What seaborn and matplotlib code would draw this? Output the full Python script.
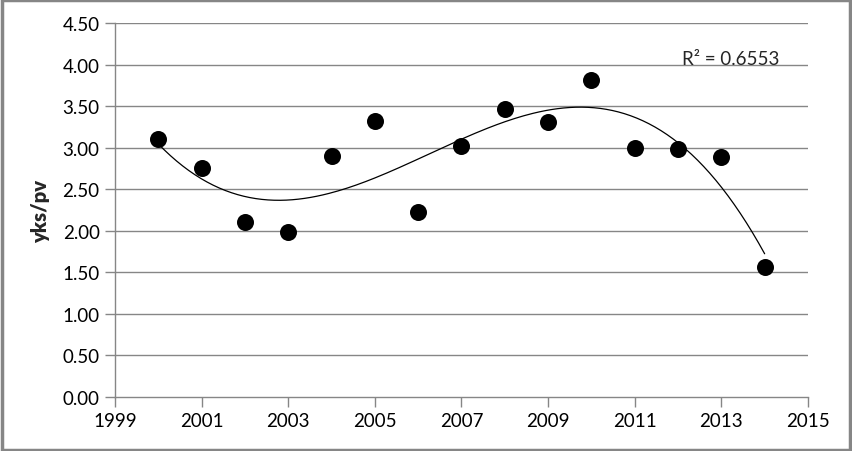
import numpy as np
import pandas as pd
import matplotlib
matplotlib.use("Agg")
import matplotlib.pyplot as plt
import seaborn as sns
from matplotlib.patches import Rectangle

years = [2000, 2001, 2002, 2003, 2004, 2005, 2006, 2007,
         2008, 2009, 2010, 2011, 2012, 2013, 2014]
values = [3.10, 2.76, 2.10, 1.98, 2.90, 3.32, 2.22, 3.02,
          3.46, 3.31, 3.82, 3.00, 2.98, 2.89, 1.57]
r2_label = "R² = 0.6553"
y_label = "yks/pv"
x_ticks = list(range(1999, 2016, 2))
y_ticks = [0.0, 0.5, 1.0, 1.5, 2.0, 2.5, 3.0, 3.5, 4.0, 4.5]

df = pd.DataFrame({"year": years, "value": values})

sns.set_style("white")
plt.rcParams["font.family"] = ["Lato", "DejaVu Sans"]

fig = plt.figure(figsize=(8.53, 4.52), dpi=100)
ax = fig.add_axes([0.1348, 0.1195, 0.8124, 0.8274])

grid_c = "#868686"
for yt in y_ticks[1:]:
    ax.axhline(yt, color=grid_c, lw=1.0, zorder=0)

# cubic trend line, like Excel's polynomial trendline
coef = np.polyfit(df["year"] - 2000, df["value"], 3)
xs = np.linspace(2000, 2014, 200)
trend = pd.DataFrame({"year": xs, "fit": np.polyval(coef, xs - 2000)})
sns.lineplot(data=trend, x="year", y="fit", color="black", lw=0.9, ax=ax, zorder=2)

sns.scatterplot(data=df, x="year", y="value", color="black", s=150,
                edgecolor="black", linewidth=0, ax=ax, zorder=3)

ax.set_xlim(1999, 2015)
ax.set_ylim(0, 4.5)
ax.set_xticks(x_ticks)
ax.set_yticks(y_ticks)
ax.set_yticklabels([f"{v:.2f}" for v in y_ticks])
ax.tick_params(axis="both", labelsize=13.5, colors=grid_c, labelcolor="black",
               direction="out", length=7, width=1.0, pad=4, left=True, bottom=True)
ax.set_xlabel("")
ax.set_ylabel(y_label, fontsize=14.5, fontweight="heavy", labelpad=9)

for side in ["top", "right"]:
    ax.spines[side].set_visible(False)
for side in ["left", "bottom"]:
    ax.spines[side].set_color(grid_c)
    ax.spines[side].set_linewidth(1.0)

ax.text(2012.1, 4.07, r2_label, fontsize=13.5, va="center", ha="left")

fig.patches.append(Rectangle((0.002, 0.003), 0.995, 0.994, transform=fig.transFigure,
                             fill=False, edgecolor=grid_c, lw=2.5))

fig.savefig("out.png", dpi=100)
